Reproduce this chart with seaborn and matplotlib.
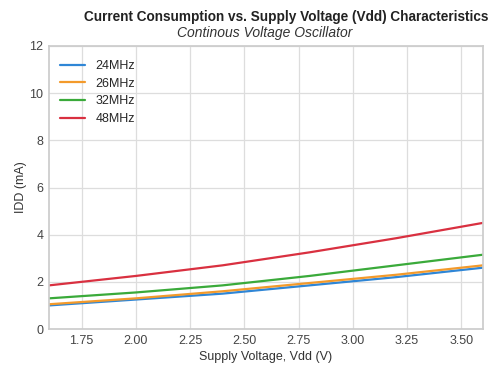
import matplotlib
matplotlib.use("Agg")
import matplotlib.pyplot as plt
import seaborn as sns
import pandas as pd

voltage = [1.6, 2.0, 2.4, 2.8, 3.2, 3.6]
idd_24 = [1.00, 1.25, 1.50, 1.85, 2.20, 2.60]
idd_26 = [1.05, 1.30, 1.60, 1.95, 2.30, 2.70]
idd_32 = [1.30, 1.55, 1.85, 2.25, 2.70, 3.15]
idd_48 = [1.85, 2.25, 2.70, 3.25, 3.85, 4.50]
series_names = ["24MHz", "26MHz", "32MHz", "48MHz"]
x_ticks = [1.75, 2.00, 2.25, 2.50, 2.75, 3.00, 3.25, 3.50]
y_ticks = [0, 2, 4, 6, 8, 10, 12]

sns.set_theme(style="whitegrid")
plt.rcParams['font.family'] = ['Liberation Sans', 'DejaVu Sans']

rows = []
for name, vals in zip(series_names, [idd_24, idd_26, idd_32, idd_48]):
    for v, i in zip(voltage, vals):
        rows.append({"V": v, "IDD": i, "Freq": name})
df = pd.DataFrame(rows)

palette = {"24MHz": "#2f86d6", "26MHz": "#f39a2b", "32MHz": "#3aaa3a", "48MHz": "#d93040"}

fig = plt.figure(figsize=(4.89, 3.67), dpi=100)
ax = fig.add_axes([0.1002, 0.1035, 0.8875, 0.7712])
sns.lineplot(data=df, x="V", y="IDD", hue="Freq", palette=palette, ax=ax, linewidth=1.6)

ax.set_xlim(1.6, 3.6)
ax.set_ylim(0, 12)
ax.set_xticks(x_ticks)
ax.set_xticklabels([f"{t:.2f}" for t in x_ticks])
ax.set_yticks(y_ticks)
ax.tick_params(axis='both', labelsize=9, colors='#444444', length=0)
ax.tick_params(axis='y', pad=4)
ax.tick_params(axis='x', pad=4)
ax.set_xlabel("Supply Voltage, Vdd (V)", fontsize=9, color='#333333', labelpad=3)
ax.set_ylabel("IDD (mA)", fontsize=9, color='#333333', labelpad=2)
for s in ax.spines.values():
    s.set_edgecolor('#cccccc')
ax.grid(color='#dddddd', linewidth=0.9)

leg = ax.legend(loc='upper left', frameon=False, fontsize=9, handlelength=2.0,
                bbox_to_anchor=(0.0, 0.99), labelspacing=0.45)
leg.set_title(None)

fig.text(488/489, 1 - 17/367, "Current Consumption vs. Supply Voltage (Vdd) Characteristics",
         ha='right', va='center', fontsize=9.8, fontweight='bold', color='#222222')
fig.text(265/489, 1 - 33/367, "Continous Voltage Oscillator",
         ha='center', va='center', fontsize=10, fontstyle='italic', color='#333333')

fig.savefig("out.png", dpi=100)
